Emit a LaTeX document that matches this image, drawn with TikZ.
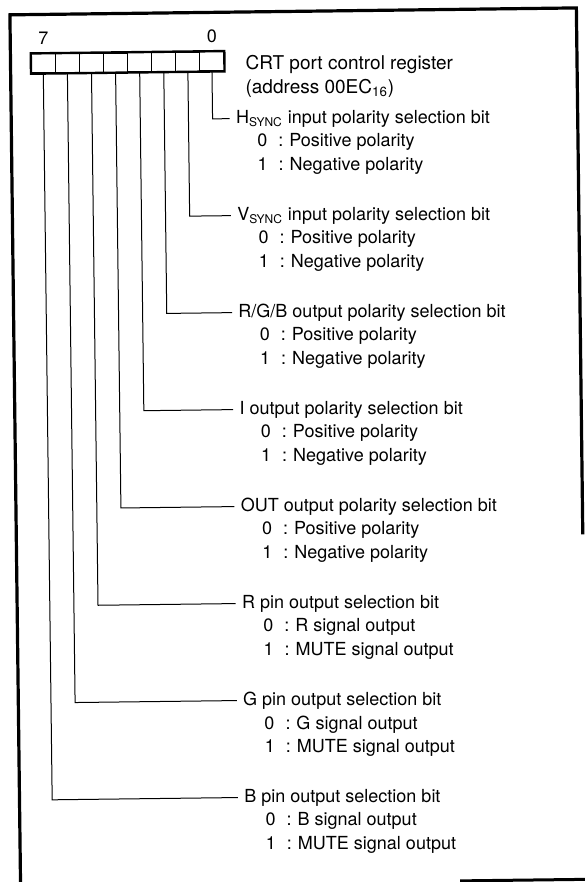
\documentclass[tikz,border=0pt]{standalone}
\usepackage{fontspec}
\setmainfont{TeX Gyre Heros}
\usetikzlibrary{positioning}
\newcommand{\optline}[2]{#1\hspace{5.5pt}:\hspace{3pt}#2}
\tikzset{
  cell/.style={draw, line width=0.5pt, minimum width=12.05pt, minimum height=9.5pt, inner sep=0pt},
  bitlabel/.style={anchor=west, inner xsep=3pt, inner ysep=0pt},
  opttext/.style={anchor=west, inner sep=0pt},
  wire/.style={line width=0.5pt},
}
\begin{document}
\begin{tikzpicture}[x=0.5pt, y=-0.5pt, font=\fontsize{9}{12}\selectfont]
  \useasboundingbox (0,0) rectangle (584,882);
  \begin{scope}[rotate around={0.7:(120,62)}]
  % frame
  \draw[line width=1.6pt] (10.5,900) -- (10.5,13.5) -- (577,13.5) -- (577,540);
  \draw[line width=1.5pt] (450,885) -- (600,885);
  % register
  \foreach \i in {0,...,7}
    \node[cell] (b\i) at ({212-24.1*\i},62.5) {};
  \draw[line width=1.2pt] (b7.north west) rectangle (b0.south east);
  \node[above=1pt of b7] (msb) {7};
  \node[above=1pt of b0] (lsb) {0};
  \node[anchor=west, align=left, inner sep=0pt, font=\fontsize{9.5}{12}\selectfont] (title) at (245,78)
    {CRT port control register\\(address 00EC\textsubscript{16})};
  % bits
  \foreach \b/\txt/\zero/\one in {
      0/{H\textsubscript{SYNC} input polarity selection bit}/Positive polarity/Negative polarity,
      1/{V\textsubscript{SYNC} input polarity selection bit}/Positive polarity/Negative polarity,
      2/{R/G/B output polarity selection bit}/Positive polarity/Negative polarity,
      3/{I output polarity selection bit}/Positive polarity/Negative polarity,
      4/{OUT output polarity selection bit}/Positive polarity/Negative polarity,
      5/{R pin output selection bit}/R signal output/MUTE signal output,
      6/{G pin output selection bit}/G signal output/MUTE signal output,
      7/{B pin output selection bit}/B signal output/MUTE signal output} {
    \node[bitlabel] (l\b) at (229,120+97*\b) {\txt};
    \node[opttext] (z\b) at (256,144+97*\b) {\optline{0}{\zero}};
    \node[opttext] (o\b) at (256,168+97*\b) {\optline{1}{\one}};
    \draw[wire] (b\b.south) |- (l\b.west);
  }
  \end{scope}
\end{tikzpicture}
\end{document}
